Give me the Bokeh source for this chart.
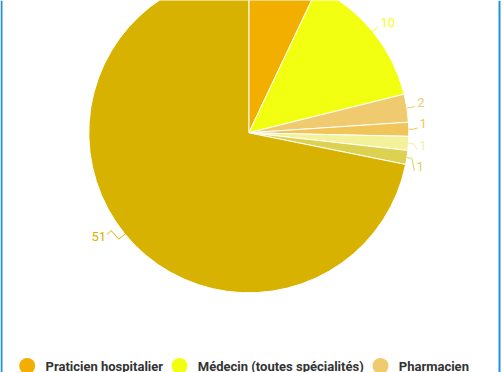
import math
from bokeh.plotting import figure
from bokeh.models import Range1d
from bokeh.core.properties import value
from bokeh.embed import file_html
from bokeh.resources import INLINE

# ---------------- data ----------------
values = [5, 10, 2, 1, 1, 1, 51]
slice_colors = ["#F2AF00", "#F2FF10", "#EFCA6E", "#F1C55A", "#F4F19B", "#DDD152", "#D8B200"]
legend_names = ["Praticien hospitalier", "Médecin (toutes spécialités)", "Pharmacien"]

# ---------------- layout (pixel coordinates, y downward) ----------------
W, H = 504, 372
CX, CY = 248.3, 132.3     # pie centre
R = 160
DIST = 14
LABEL_GAP = 21.5
LEFT_DY = -6.5
legend_x = [26.7, 179.0, 380.0]
legend_y = 365.5
legend_text_dx = 18.3


def dx(px):
    return px


def dy(py):
    return H - py


p = figure(width=W, height=H, x_range=Range1d(0, W), y_range=Range1d(0, H),
           output_backend="svg", toolbar_location=None, min_border=0,
           x_axis_type=None, y_axis_type=None)
p.grid.visible = False
p.outline_line_color = None
p.background_fill_color = "white"
p.border_fill_color = "white"

total = sum(values)
starts, ends, mids = [], [], []
cum = 0.0
for v in values:
    a0 = cum / total * 2 * math.pi
    cum += v
    a1 = cum / total * 2 * math.pi
    starts.append(math.pi / 2 - a0)
    ends.append(math.pi / 2 - a1)
    mids.append((a0 + a1) / 2)  # clockwise from top

p.wedge(x=[dx(CX)] * len(values), y=[dy(CY)] * len(values), radius=R,
        start_angle=starts, end_angle=ends, direction="clock",
        fill_color=slice_colors, line_color="white", line_width=1)

# ---------- data labels ----------
items = []
for i, (v, th) in enumerate(zip(values, mids)):
    s, c = math.sin(th), math.cos(th)
    ty = CY - (R + DIST) * c
    items.append(dict(i=i, side=1 if s >= 0 else -1, target=ty, th=th))


def distribute(group_items):
    group_items = sorted(group_items, key=lambda d: d["target"])
    groups = [[d] for d in group_items]

    def top(g):
        return sum(d["target"] - k * LABEL_GAP for k, d in enumerate(g)) / len(g)
    changed = True
    while changed:
        changed = False
        for k in range(len(groups) - 1):
            g, h = groups[k], groups[k + 1]
            if top(h) < top(g) + len(g) * LABEL_GAP:
                groups[k] = g + h
                del groups[k + 1]
                changed = True
                break
    for g in groups:
        t = top(g)
        for k, d in enumerate(g):
            d["y"] = t + k * LABEL_GAP


distribute([d for d in items if d["side"] > 0])
distribute([d for d in items if d["side"] < 0])

lx, ly, ltxt, lcol, lalign = [], [], [], [], []
cxs, cys, ccol = [], [], []
for d in items:
    i, th, side = d["i"], d["th"], d["side"]
    y = d["y"] + (LEFT_DY if side < 0 else 0)
    if y < 8:          # label lies above the visible area
        continue
    ddy = y - CY
    rr = R + DIST
    xx = CX + side * math.sqrt(max(rr * rr - ddy * ddy, 0))
    tx = xx - 3
    lx.append(dx(tx)); ly.append(dy(y)); ltxt.append(str(values[i]))
    lcol.append(slice_colors[i]); lalign.append("left" if side > 0 else "right")
    ex, ey = CX + R * math.sin(th), CY - R * math.cos(th)
    if side > 0:
        bx, by = CX + (R + 5) * math.sin(th), CY - (R + 5) * math.cos(th)
        px_ = [ex, bx, tx - 2]
        py_ = [ey, by, y + 4]
    else:
        bx, by = CX + (R + 8) * math.sin(th), CY - (R + 8) * math.cos(th)
        px_ = [ex, bx, tx + 5, tx + 1]
        py_ = [ey, by, y - 6, y - 2]
    cxs.append([dx(v_) for v_ in px_])
    cys.append([dy(v_) for v_ in py_])
    ccol.append(slice_colors[i])

p.multi_line(xs=cxs, ys=cys, line_color=ccol, line_width=1)
p.text(x=lx, y=ly, text=ltxt, text_color=lcol, text_align=lalign,
       text_baseline="middle", text_font=value("Roboto"), text_font_size="13px")

# ---------------- legend ----------------
n = len(legend_names)
p.scatter(x=[dx(v) for v in legend_x[:n]], y=[dy(legend_y)] * n, marker="circle",
          size=16, fill_color=slice_colors[:n], line_color=None)
p.text(x=[dx(v + legend_text_dx) for v in legend_x[:n]], y=[dy(legend_y)] * n,
       text=legend_names, text_color="#333333", text_align="left",
       text_baseline="middle", text_font=value("Roboto"), text_font_size="13px",
       text_font_style="bold")

# ---------------- side borders ----------------
p.quad(left=[0, 498], right=[2, 500], bottom=[0, 0], top=[H, H],
       fill_color="#2391D6", line_color=None)

open("out.html", "w").write(file_html(p, INLINE))
